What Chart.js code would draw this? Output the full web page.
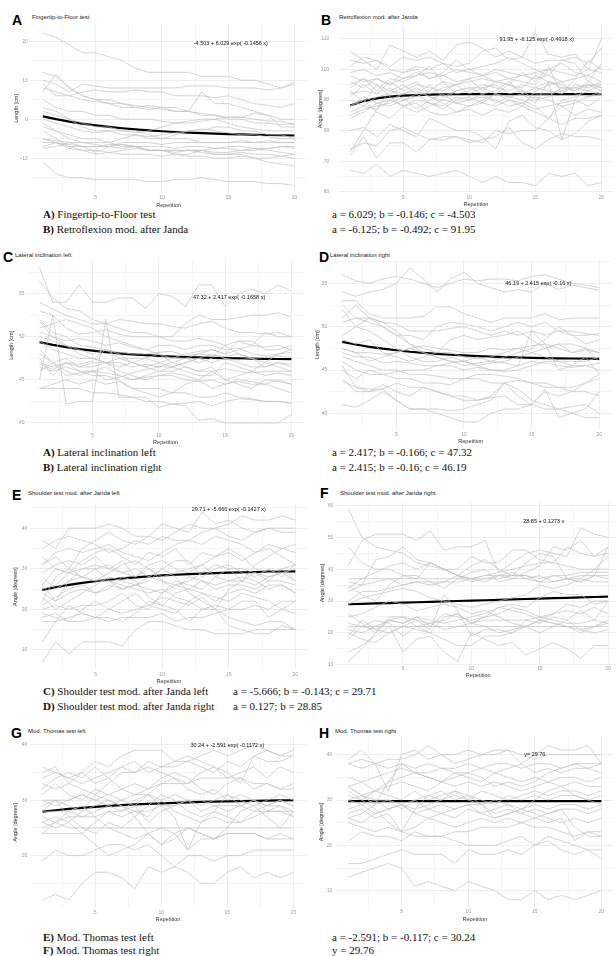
<!DOCTYPE html>
<html><head><meta charset="utf-8">
<script src="https://cdn.jsdelivr.net/npm/chart.js@4/dist/chart.umd.min.js"></script>
<style>
html,body{margin:0;padding:0;background:#fff;}
body{width:616px;height:956px;position:relative;overflow:hidden;}
canvas{position:absolute;}
.lt{position:absolute;font:bold 14px "Liberation Sans",Arial,sans-serif;color:#000;line-height:14px;}
.tt{position:absolute;font:6px "Liberation Sans",Arial,sans-serif;color:#222;white-space:nowrap;line-height:6px;}
.cap{position:absolute;font:11px "Liberation Serif","Times New Roman",Times,serif;color:#111;white-space:nowrap;line-height:11px;}
</style></head><body>

<div class="lt" style="left:12px;top:13px">A</div><div class="tt" style="left:32px;top:14px">Fingertip-to-Floor test</div>
<div class="lt" style="left:321px;top:13px">B</div><div class="tt" style="left:339px;top:14px">Retroflexion mod. after Janda</div>
<div class="lt" style="left:3px;top:250px">C</div><div class="tt" style="left:15px;top:252px">Lateral inclination left</div>
<div class="lt" style="left:319px;top:250px">D</div><div class="tt" style="left:330px;top:252px">Lateral inclination right</div>
<div class="lt" style="left:12px;top:488px">E</div><div class="tt" style="left:28px;top:490px">Shoulder test mod. after Janda left</div>
<div class="lt" style="left:320px;top:486px">F</div><div class="tt" style="left:340px;top:490px">Shoulder test mod. after Janda right</div>
<div class="lt" style="left:11px;top:726px">G</div><div class="tt" style="left:28px;top:728px">Mod. Thomas test left</div>
<div class="lt" style="left:319px;top:726px">H</div><div class="tt" style="left:335px;top:728px">Mod. Thomas test right</div>

<div class="cap" style="left:43px;top:209px"><b>A)</b> Fingertip-to-Floor test</div>
<div class="cap" style="left:43px;top:224px"><b>B)</b> Retroflexion mod. after Janda</div>
<div class="cap" style="left:332px;top:209px">a = 6.029; b = -0.146; c = -4.503</div>
<div class="cap" style="left:332px;top:224px">a = -6.125; b = -0.492; c = 91.95</div>
<div class="cap" style="left:43px;top:447px"><b>A)</b> Lateral inclination left</div>
<div class="cap" style="left:43px;top:462px"><b>B)</b> Lateral inclination right</div>
<div class="cap" style="left:332px;top:447px">a = 2.417; b = -0.166; c = 47.32</div>
<div class="cap" style="left:332px;top:462px">a = 2.415; b = -0.16; c = 46.19</div>
<div class="cap" style="left:43px;top:686px"><b>C)</b> Shoulder test mod. after Janda left</div>
<div class="cap" style="left:43px;top:701px"><b>D)</b> Shoulder test mod. after Janda right</div>
<div class="cap" style="left:233px;top:686px">a = -5.666; b = -0.143; c = 29.71</div>
<div class="cap" style="left:233px;top:701px">a = 0.127; b = 28.85</div>
<div class="cap" style="left:43px;top:932px"><b>E)</b> Mod. Thomas test left</div>
<div class="cap" style="left:43px;top:945px"><b>F)</b> Mod. Thomas test right</div>
<div class="cap" style="left:332px;top:932px">a = -2.591; b = -0.117; c = 30.24</div>
<div class="cap" style="left:332px;top:945px">y = 29.76</div>

<script>
// repetitions (x axis)
const repetition=[1,2,3,4,5,6,7,8,9,10,11,12,13,14,15,16,17,18,19,20];
const xGridTicks=[2.5,5,7.5,10,12.5,15,17.5,20];

// A) Fingertip-to-Floor test [cm]
const fingerFloor=[
[22,21,19,17,17,16,15,13,12,12,12,12,11,11,11,10,10,9,8,9],
[10,9,7,9,8.5,8,8,8,8,8,8,8.5,8.5,8.5,8,8,8,7.5,8,9.5],
[9,6,6,7,7.5,7,7,7.5,7,7,6,6,6,5.5,6,5,4,3.5,3,4],
[12,11,8,6,5,4,4,3,3.5,3,3,2,7,4,4,3,2,1,0,0],
[7,11.5,8,6,5,5,4,3.5,3,2.5,2,2,1.5,1,0,0,-1,-1,-1.5,-1],
[5,3,2,2,1,1,0,0,0,-0.5,-1,-0.5,0,0,0.5,0.5,1.5,1,-2,-2],
[-5,-5.5,-6,-7,-8.5,-7,-6.5,-7,-8,-8,-8.5,-8,-8,-7.5,-7,-7,-7.5,-8,-8.5,-9],
[-6,-6,-6.5,-7,-7,-7,-7.5,-7,-8,-8,-9,-9,-8,-9,-9,-8.5,-9,-9,-9.5,-10],
[-7,-6,-7.5,-8,-8,-8.5,-9,-9,-9,-9.5,-9,-9.5,-9.5,-10,-10,-9.5,-10,-10,-9.5,-9],
[-7.5,-7,-6,-6,-6.5,-7,-6,-6,-6,-6.5,-6,-6,-6,-6,-6,-5.5,-6,-5.5,-6,-6],
[-11,-14,-15,-15,-15.5,-15.5,-15.5,-15.5,-16,-16,-15.5,-15.5,-15,-15.5,-16,-16,-16,-16.5,-16.5,-17],
[-3,-5,-7,-8,-9,-8.5,-8,-7.5,-8,-8,-8,-8,-8.5,-9,-9,-9,-10,-11,-11.5,-12],
[-1,-3,-5,-6,-6,-6,-7,-7,-8,-8,-8,-8,-8,-8.5,-8.5,-8,-8,-7.5,-7,-7],
[0,-1,-2,-3,-3.5,-3,-4,-4,-4.5,-4,-3.5,-3,-2.5,-3,-3.5,-4,-4,-4.5,-5,-5],
[3,2,0,-1,-2,-2,-3,-3,-4,-5,-5,-5,-6,-6,-6,-6,-6,-6,-6,-6],
[2,1,0,-2,-3,-3,-3,-3.5,-3,-2,-1,-1,-0.5,0,-1,-2,-2.5,-3,-3,-3],
[-5,-6,-7,-7,-7,-6.5,-6.5,-7,-7,-7,-7.5,-7,-7,-7.5,-7.5,-8,-7.5,-7.5,-7,-7.5],
[8,7,6,5,4.5,4,3,3,2.5,3,2,2,1,1,0.5,0.5,0,-0.5,-0.5,-1.5],
[-2,-3,-4,-5,-5,-6,-5,-4,-5,-5,-4,-3,-3,-2,-2,-3,-3,-4,-4,-5]
];
const fingerFloorFit=[0.71,0.00,-0.61,-1.14,-1.59,-1.99,-2.33,-2.62,-2.88,-3.10,-3.29,-3.45,-3.59,-3.72,-3.82,-3.92,-4.00,-4.06,-4.12,-4.18];

// B) Retroflexion mod. after Janda [degrees]
const retroflexion=[
[106,103,100,108,106,104,106,103,108,109,107,104,106,104,112,105,104,105,100,110],
[103,102,103,101,104,103,104,102,101,102,106,107,103,104,102,103,103,104,102,107],
[101,104,103,100,99,101,100,102,99,100,101,102,104,102,100,98,103,102,96,102],
[98,96,97,95,99,100,97,99,103,100,98,99,97,96,95,100,102,99,98,101],
[95,97,93,97,96,98,101,96,95,96,97,96,95,99,96,101,92,97,103,100],
[93,89,95,93,92,94,91,90,93,94,92,93,96,92,89,96,95,93,96,94],
[92,93,92,94,90,91,93,96,92,93,95,94,93,95,94,93,92,95,94,96],
[90,88,91,92,94,96,92,94,95,92,94,95,92,93,92,92,93,94,95,95],
[88,91,89,88,90,92,89,87,90,91,89,88,90,89,91,90,88,89,91,92],
[86,88,87,90,88,86,88,90,89,90,91,90,88,89,87,88,89,90,88,91],
[85,87,88,89,91,87,90,92,89,88,89,92,90,88,93,95,96,92,91,93],
[94,97,95,91,88,90,89,88,91,90,92,89,91,90,88,84,90,91,93,92],
[84,86,89,90,92,93,91,89,86,88,90,92,95,93,90,91,94,94,93,95],
[80,81,78,82,80,78,84,82,80,80,78,74,83,85,81,80,77,79,83,85],
[72,78,71,76,76,73,77,78,78,77,76,80,79,80,80,84,82,84,84,85],
[74,76,75,80,81,79,77,77,78,76,77,78,81,76,74,77,79,78,78,77],
[67,66,69,65,67,66,65,66,67,65,63,65,63,63,62,66,65,66,62,63],
[73,80,87,93,95,92,95,91,93,94,94,92,91,92,94,96,94,93,95,94],
[96,94,97,95,97,98,99,98,96,97,98,96,97,98,97,98,96,97,98,96],
[99,100,98,99,97,99,97,98,100,99,98,100,99,98,99,100,99,98,100,99],
[91,95,92,96,93,95,94,93,95,97,93,96,95,94,98,96,77,90,95,93],
[88,90,86,84,88,89,86,85,86,87,85,87,86,88,86,84,88,85,87,86]
];
const retroflexionFit=[88.2,89.66,90.55,91.09,91.43,91.63,91.75,91.83,91.88,91.9,91.92,91.93,91.94,91.94,91.95,91.95,91.95,91.95,91.95,91.95];

// C) Lateral inclination left [cm]
const latLeft=[
[58,54,54,56,54,54,54.5,54.5,53.3,55,54.7,53.5,56,56,53.5,55,55.5,55,56,55.3],
[56.5,54.5,53.3,53,52,51.5,52,51.8,51.5,51.5,51.2,51,51.5,51.8,51,50.5,50.5,50.3,50.5,50],
[54,53.2,52.5,52,51.5,51.5,51,50.5,50.5,50,50,51.5,52.5,52,52,52.2,52.5,52.5,52.8,52.3],
[53,52.5,51,50.3,50.5,50.8,50.3,50,50,50,49.5,49.5,49.8,49.5,49,49.5,49,48.8,49,48.5],
[52,50.5,50,49,48.8,48.5,48.2,48,48,48.2,48.3,47.8,48,47.8,47.7,48,47.5,47.6,47.8,47.6],
[51,51.5,52,51.5,51,50,49.5,49,48.5,48,47.5,47.5,48,48.5,48,48.5,49,50.5,50,50],
[50,49.5,49,48.5,48,48.5,47.5,47,47.5,47,46.5,47,47.5,47,47.5,47,46.5,46.5,47,46.8],
[49.5,48.5,48,47.5,47.5,47,46.5,47,46.5,46,46,46.5,46,46,46.3,46,45.8,46,46,46],
[48,47,47.5,46.5,46.5,47,46,45.5,45,45.5,45.5,45,44.8,45,44.5,44.8,44.5,44.5,45,44.5],
[47,46.5,47,46,45.5,45.5,45,44,44,44,43.5,43.5,43,43,43.5,43,42.8,42.5,42.5,42.3],
[44,44,44,44,43.5,43.5,43.3,43,43,41.8,42.2,42,40.3,40.5,40,40,40,40,40,41],
[45,52.5,42.2,42.5,42.5,52,43,43,42.5,42.5,42.2,42.3,42.5,42,42.5,42.8,42.7,42.5,42.5,42.3],
[46.5,46,46.5,46,46,46.5,45.5,45,45.3,45.5,45.8,45.5,45,44,44.5,45,44.8,44.5,44,43.5],
[47.5,45.5,47,46.5,47,47,47.5,47.5,47.5,48,47,47.5,47,47.5,49,48,47.5,47,46.5,46],
[48.5,47,46,45.5,46,45.8,45.5,45,45.5,46,46.5,46,45.5,45.5,47,46.5,46,45.5,45.8,45.5],
[51.8,50,49,48,47.5,47,47,46.5,46.8,46.5,46.5,47,47.5,48,47.5,47.3,47.5,46.5,47,46.5],
[46.8,46.2,47,46.8,47.2,48.5,48,47,46.5,47,47.5,48,48.3,48.5,48,49.5,49.5,48.5,48.5,49],
[46,47,45.5,45.8,46,45,45.3,45.8,46.2,46.5,47,46.5,46,46.5,45,45.5,46,47,48,48.5],
[50.5,50,49.5,49.8,49.5,49,49.3,48.8,48.5,49,49,48.5,49,49,48.5,48.7,48,47.8,48,48.2],
[44,44.5,45,44.5,45,44.5,44.8,44,43.5,43,43.5,44.5,45,46,45,44.5,44,45,44.8,44.5]
];
const latLeftFit=[49.37,49.05,48.79,48.57,48.38,48.21,48.08,47.96,47.86,47.78,47.71,47.65,47.60,47.56,47.52,47.49,47.46,47.44,47.42,47.41];

// D) Lateral inclination right [cm]
const latRight=[
[56,55.3,55,55.5,55.8,55.5,55,54.5,55,55.5,55.3,55.5,55.5,55.3,55.8,56,55.5,55,54.8,54.5],
[54,53.5,54,54.3,55,56.8,55.5,54,55.5,56.3,55,54.5,54,54.3,54,55,54.3,54.8,54.5,54.2],
[53,53,51.5,51,51,51,51.2,52.3,52.3,51.5,51,50.5,51,51,51,51.5,50.8,51,51,51],
[52.5,51,50.5,50,49,49,48.5,50,50.5,50.3,50,49.5,50,50.5,50,50.5,49.5,49,49,49.2],
[52,50,51,50.5,49.5,48,47.5,47,48.5,49,48.5,48.8,49,49.5,48.5,47.5,48,48,47.5,47],
[51,52.5,51,50,49,48,47,46.5,46,46,45.5,45.8,46,46.5,47,47.5,48,47,47.5,46],
[49,50,49.5,48.5,47.5,46.5,46,46,46.5,46,45.5,45,45,45.5,49.5,48,45,45.5,46.5,44.5],
[48.5,48,48.5,47,46.5,46,46.5,47,47,46.5,46.3,46.5,47,47.5,47,46.5,46,46,46,46.5],
[47.5,47,46,46.5,47,47.5,47,46.5,46,45.5,45.8,46,46.5,47,47.5,48.5,50,49,48,48.5],
[47,46.5,46.5,45.8,46,45.8,45.5,45.5,45.8,46,46.5,46,45.8,45.5,46,45.8,45.5,45.3,45.5,45.8],
[46.5,46,45.5,45,45,44.5,44.5,44.3,44,44,44,43.5,43.5,43.8,43.5,43,43,42.5,42.5,42],
[46,45,44.5,44.5,44,44,43.5,43.5,43.3,44,44.5,44.5,44.3,44,43.5,43.5,43,43,43.5,44],
[45.5,43,42.5,42.8,43.5,43,43,42.5,42,42,41.5,41.8,42,41,41,42.5,42,42.5,43.5,44.5],
[44,42.5,42.5,43.3,42.5,42,43,42.5,42,41.5,41.5,42,43.5,42,41,40.5,40.5,40.8,41,40],
[41,40.7,41.5,42.5,41.5,40.5,40.5,40,39.5,39,39,40,40.5,40.5,41,42.7,39.5,40,39.5,39.5],
[43.7,43,42.8,42.8,41.5,40.5,40.5,40.5,40.3,40.5,41,41.5,43.5,42.8,41.5,41,40.5,40,40.5,42.5],
[50.5,51,51,50.5,50.3,49.5,49.5,49.5,49.8,50,49.5,49,49.5,49,49.5,49,49.5,49.5,49.2,49],
[47.5,47,47,46.8,47,47.5,47.8,47.5,47.3,47,47,47.5,47.3,47.5,47.8,48,47.5,47,47.3,47],
[45,44,45,44.5,44.8,45,45,45.5,45.5,45,45.3,45,44.8,45,45.5,46,46,45.5,45.5,45]
];
const latRightFit=[48.25,47.94,47.68,47.46,47.28,47.11,46.98,46.86,46.76,46.68,46.61,46.54,46.49,46.45,46.41,46.38,46.35,46.33,46.31,46.29];

// E) Shoulder test mod. after Janda left [degrees]
const shoulderLeft=[
[7,12,9,12,12,12,11,15,17,17,16,15,15,14,14,14,15,15,15,15],
[12,17,21,19,18,18,17,19,22,21,20,17,20,20,16,15,14,14,16,15],
[18,19,17,17,18,20,19,20,21,20,19,22,20,21,20,22,22,18,20,22],
[19,18,17,20,22,20,22,24,21,23,22,21,23,20,18,17,16,17,17,15],
[21,23,25,26,24,25,28,27,23,21,24,25,24,22,24,25,24,26,26,24],
[22,28,30,28,30,27,25,26,27,30,28,24,22,20,25,27,29,27,30,27],
[25,26,29,30,30,31,29,30,28,30,32,32,28,30,31,29,28,30,28,31],
[26,30,29,32,34,35,33,31,34,33,35,31,34,33,35,33,30,29,30,31],
[28,25,27,30,31,30,29,28,30,27,25,28,27,26,27,28,27,25,26,24],
[31,34,35,34,35,36,34,33,32,34,36,37,36,38,37,36,34,36,35,34],
[35,37,38,37,36,34,35,37,36,38,37,37,39,40,38,37,39,40,39,39],
[37,35,40,40,40,41,40,38,38,37,39,41,40,40,41,43,42,42,43,42],
[31,33,30,35,37,39,37,36,38,41,40,39,44,41,42,40,39,40,40,40],
[29,31,32,31,33,30,32,28,31,32,30,29,31,33,34,32,34,35,33,31],
[23,20,22,24,26,28,27,26,25,24,27,26,25,28,30,30,29,28,29,27],
[17,17,18,19,18,17,18,18,18,19,17,18,18,19,20,20,21,20,22,22],
[26,22,27,28,27,29,31,32,30,28,29,30,31,28,27,27,26,28,29,30],
[33,30,29,28,27,27,26,25,24,25,23,22,24,23,22,24,23,22,20,19],
[20,21,20,21,21,22,24,21,20,24,26,27,29,31,30,27,31,33,35,36],
[24,22,24,25,24,26,25,26,28,27,26,25,27,25,26,26,25,27,27,26]
];
const shoulderLeftFit=[24.80,25.45,26.02,26.51,26.93,27.30,27.62,27.90,28.14,28.35,28.53,28.69,28.82,28.94,29.04,29.13,29.21,29.28,29.33,29.38];

// F) Shoulder test mod. after Janda right [degrees]
const shoulderRight=[
[59,50,47,46,45,42,41,40,38,37,38,39,40,41,42,42,41,40,40,40],
[41,49,51,51,51,49,52,46,47,47,49,39,42,45,46,45,44,53,51,50],
[47,42,40,40,38,37,42,40,38,36,37,38,37,39,41,47,46,49,44,45],
[36,35,43,44,47,43,42,40,38,41,43,40,38,42,45,44,37,36,38,47],
[37,37,37,37,37,37,37,37,37,37,37,37,38,38,37,38,38,39,39,39],
[35,32,30,35,38,38,36,34,37,39,40,36,37,37,36,38,37,36,38,37],
[30,33,33,34,35,36,36,36,36,37,38,38,38,38,36,36,37,37,36,36],
[33,35,36,37,35,36,35,36,38,37,36,38,39,37,38,36,37,38,38,38],
[29,31,32,33,34,33,31,30,29,28,29,30,31,32,35,34,35,37,40,44],
[26,23,20,24,25,24,21,32,27,19,21,21,20,24,23,25,24,27,24,30],
[22,22,22,22,22,22,22,22,22,22,22,22,22,22,22,22,22,22,22,22],
[21,20,22,24,23,25,24,23,24,25,26,28,29,28,31,33,32,32,29,30],
[19,24,21,24,23,25,22,26,25,24,25,28,27,26,24,26,27,26,28,26],
[20,18,17,20,22,21,20,18,16,16,19,19,20,22,24,23,22,20,22,24],
[18,22,24,23,19,22,23,21,22,23,22,20,21,22,24,23,22,21,22,23],
[14,16,19,22,14,18,19,14,11,20,18,16,17,13,15,17,15,12,16,16],
[11,15,20,25,25,22,20,25,26,23,25,26,28,27,25,26,29,28,30,30],
[25,26,28,30,29,27,28,29,28,26,27,25,23,22,20,22,24,21,20,21],
[34,37,39,41,42,40,42,40,40,44,42,42,46,46,43,42,47,45,44,47],
[23,22,21,20,22,24,23,24,26,23,24,24,24,24,25,24,23,23,24,23]
];
const shoulderRightFit=[28.98,29.10,29.23,29.36,29.49,29.61,29.74,29.87,30.00,30.12,30.25,30.38,30.50,30.63,30.76,30.89,31.01,31.14,31.27,31.40];

// G) Mod. Thomas test left [degrees]
const thomasLeft=[
[12,13,12,15,17,17,16,14,18,17,18,17,15,15,17,18,16,17,16,17],
[19,21,20,20,21,22,22,21,22,20,18,20,20,19,20,20,21,21,21,21],
[24,24,24,24,22,20,21,22,24,22,24,21,23,23,24,24,24,23,23,23],
[25,26,25,25,25,25,25,25,25,25,25,25,25,25,25,25,25,25,25,25],
[26,27,26,24,26,28,27,28,27,30,28,27,26,27,26,26,28,29,30,29],
[27,26,28,29,27,28,28,29,26,28,29,30,30,29,28,29,30,28,29,28],
[28,30,27,25,24,26,25,27,29,31,30,28,27,28,27,26,27,28,28,27],
[30,29,30,31,30,29,30,31,31,30,31,30,29,30,31,30,29,30,31,30],
[31,33,31,30,32,31,30,29,31,33,34,32,31,32,30,31,30,29,30,29],
[32,34,35,34,36,34,32,33,32,34,35,34,32,31,33,34,32,33,32,33],
[33,32,33,35,33,34,36,35,36,35,34,33,35,36,34,35,36,34,36,35],
[34,35,34,33,34,35,36,37,35,36,36,37,36,35,37,36,38,37,37,38],
[36,35,34,35,37,36,38,39,39,39,37,37,38,39,38,39,40,39,38,38],
[35,36,33,32,31,33,35,35,37,36,37,38,37,36,35,33,38,39,38,39],
[24,26,27,27,28,29,28,30,31,29,27,21,26,28,31,29,30,29,29,27],
[26,25,26,28,31,30,29,27,24,22,23,25,24,23,25,28,29,27,25,28],
[29,30,30,31,30,31,32,31,32,33,33,33,34,34,34,34,33,33,32,32],
[28,28,28,27,27,25,24,23,24,25,24,25,24,23,24,24,24,23,24,23],
[30,30,29,28,29,30,29,28,28,29,29,30,28,29,29,29,28,28,28,28]
];
const thomasLeftFit=[27.94,28.19,28.42,28.62,28.80,28.96,29.10,29.23,29.34,29.44,29.53,29.61,29.68,29.74,29.79,29.84,29.89,29.93,29.96,29.99];

// H) Mod. Thomas test right [degrees]
const thomasRight=[
[13,14,15,16,15,11,12,11,10,12,11,10,8,8,10,8,9,8,9,10],
[16,16,17,18,19,18,18,18,16,19,18,18,19,18,20,21,19,18,19,17],
[21,23,22,22,21,23,22,22,21,20,20,20,21,22,20,22,21,20,19,19],
[25,24,23,24,23,22,22,22,23,23,24,24,24,25,24,24,23,22,23,23],
[26,25,27,28,29,27,26,25,24,25,26,25,26,25,26,27,28,24,22,22],
[27,28,26,27,23,24,26,27,26,28,27,26,27,28,27,26,25,26,25,26],
[28,29,30,28,29,30,28,29,28,29,29,30,29,28,29,28,29,29,28,29],
[30,31,29,30,28,30,31,32,30,31,30,29,31,30,31,30,31,31,30,31],
[31,30,32,31,30,32,30,31,32,30,32,31,30,31,32,31,32,32,31,32],
[33,31,32,33,34,33,32,34,33,34,33,34,33,32,33,34,33,34,33,33],
[33,34,32,34,35,36,35,34,36,35,34,36,35,34,35,34,35,35,34,35],
[35,34,35,36,37,36,36,37,36,36,37,36,37,38,36,37,36,37,37,36],
[38,37,38,37,38,37,38,37,37,38,37,38,38,37,38,38,37,38,38,38],
[39,41,38,32,40,41,39,40,38,39,40,41,41,38,40,42,41,41,42,38],
[38,39,38,39,39,40,42,40,40,41,40,40,41,40,39,40,40,40,40,40],
[32,30,28,25,23,28,31,30,32,31,29,26,27,28,30,32,33,31,30,29],
[30,29,27,28,29,27,28,27,28,29,27,28,29,27,28,27,28,28,27,28],
[26,27,29,34,38,36,35,34,35,36,35,33,34,33,34,36,37,38,37,38],
[33,31,30,30,29,28,29,30,31,30,29,27,28,27,26,25,26,21,23,22]
];
const thomasRightFit=[29.76,29.76,29.76,29.76,29.76,29.76,29.76,29.76,29.76,29.76,29.76,29.76,29.76,29.76,29.76,29.76,29.76,29.76,29.76,29.76];

// y tick values per panel (major ones get labels)
const ticksA=[-15,-10,-5,0,5,10,15,20];
const ticksB=[60,65,70,75,80,85,90,95,100,105,110];
const ticksC=[40,42.5,45,47.5,50,52.5,55,57.5];
const ticksE=[10,15,20,25,30,35,40,45];
const ticksF=[10,15,20,25,30,35,40,45,50,55,60];
const ticksG=[15,20,25,30,35,40];
const ticksH=[10,15,20,25,30,35,40];

// layout of each panel in page px: x1/x20 = pixel of repetition 1 and 20, y mapped by two reference ticks
const panels=[
 {lines:fingerFloor,fit:fingerFloorFit,yt:"Length [cm]",ticks:ticksA,major:10,ymin:-18.9,ymax:24.4,ref:[20,41,-10,158],x1:43,x20:295,ytx:16.5,tickR:28,xty:205.5,eq:"-4.503 + 6.029 exp( -0.1456 x)",ex:15.2,ey:19.5},
 {lines:retroflexion,fit:retroflexionFit,yt:"Angle [degrees]",ticks:ticksB,major:10,ymin:59.8,ymax:114.4,ref:[110,38,60,192],x1:350,x20:601,ytx:320,tickR:329,xty:205,eq:"91.95 + -6.125 exp( -0.4918 x)",ex:15.1,ey:109.7},
 {lines:latLeft,fit:latLeftFit,yt:"Length [cm]",ticks:ticksC,major:5,ymin:39.1,ymax:58.9,ref:[50,336.3,40,422.3],x1:40,x20:292,ytx:11.7,tickR:25,xty:442,eq:"47.32 + 2.417 exp( -0.1658 x)",ex:15.3,ey:54.6},
 {lines:latRight,fit:latRightFit,yt:"Length [cm]",ticks:ticksC,major:5,ymin:38.1,ymax:57.7,ref:[55,283.3,40,413.3],x1:342,x20:599,ytx:317,tickR:327,xty:441.7,eq:"46.19 + 2.415 exp( -0.16 x)",ex:15.5,ey:55},
 {lines:shoulderLeft,fit:shoulderLeftFit,yt:"Angle [degrees]",ticks:ticksE,major:10,ymin:5.25,ymax:45.95,ref:[40,528.3,10,650],x1:42,x20:295,ytx:15,tickR:27,xty:681.7,eq:"29.71 + -5.666 exp( -0.1427 x)",ex:15,ey:44.7},
 {lines:shoulderRight,fit:shoulderRightFit,yt:"Angle [degrees]",ticks:ticksF,major:10,ymin:10.2,ymax:61.1,ref:[60,505,10,664],x1:348,x20:608,ytx:322,tickR:333,xty:675,eq:"28.85 + 0.1273 x",ex:15.3,ey:54.9},
 {lines:thomasLeft,fit:thomasLeftFit,yt:"Angle [degrees]",ticks:ticksG,major:10,ymin:10.6,ymax:41.4,ref:[40,744.3,20,855],x1:42,x20:293,ytx:15,tickR:27,xty:919,eq:"30.24 + -2.591 exp( -0.1172 x)",ex:15,ey:39.8},
 {lines:thomasRight,fit:thomasRightFit,yt:"Angle [degrees]",ticks:ticksH,major:10,ymin:6.4,ymax:43.9,ref:[40,754.3,10,890],x1:348,x20:601,ytx:321,tickR:332,xty:919,eq:"y= 29.76",ex:15,ey:40.1}
];

const fitLabel={id:"fitLabel",afterDatasetsDraw(chart,args,o){
  const c=chart.ctx,x=chart.scales.x.getPixelForValue(o.x),y=chart.scales.y.getPixelForValue(o.y);
  c.save();c.font='5.5px "Liberation Sans", Arial, sans-serif';c.fillStyle="#111";c.textAlign="center";c.textBaseline="middle";
  c.fillText(o.text,x,y);c.restore();
}};

const FONT='"Liberation Sans", Arial, sans-serif';
panels.forEach(p=>{
  const u=(p.x20-p.x1)/19, L=p.x1-0.95*u, R=p.x20+0.95*u;
  const k=(p.ref[3]-p.ref[1])/(p.ref[0]-p.ref[2]);
  const T=p.ref[1]-(p.ymax-p.ref[0])*k, B=p.ref[1]+(p.ref[0]-p.ymin)*k;
  const left=p.ytx-3.3, top=T-10, bottom=p.xty+3.3;
  const cv=document.createElement("canvas");
  const w=Math.round(R+4-left), h=Math.round(bottom-top);
  cv.width=w;cv.height=h;cv.style.left=left+"px";cv.style.top=top+"px";cv.style.width=w+"px";cv.style.height=h+"px";
  document.body.appendChild(cv);
  const ds=p.lines.map(v=>({data:v.map((y,i)=>({x:repetition[i],y})),borderColor:"#c2c2c2",borderWidth:0.7,pointRadius:0,fill:false}));
  ds.push({data:p.fit.map((y,i)=>({x:repetition[i],y})),borderColor:"#000",borderWidth:2.2,pointRadius:0,fill:false});
  const gc=m=>c=>(c.tick&&Math.abs(c.tick.value%m)<1e-6)?"#e2e2e2":"#f0f0f0";
  new Chart(cv,{type:"line",data:{datasets:ds},plugins:[fitLabel],
    options:{responsive:false,animation:false,devicePixelRatio:1,
      layout:{padding:{top:T-top,right:4,left:0,bottom:0}},
      plugins:{legend:{display:false},tooltip:{enabled:false},fitLabel:{text:p.eq,x:p.ex,y:p.ey}},
      scales:{
        x:{type:"linear",min:0.05,max:20.95,
          afterBuildTicks:s=>{s.ticks=xGridTicks.map(v=>({value:v}));},
          afterFit:s=>{s.height=bottom-B;},
          ticks:{font:{size:5,family:FONT},color:"#999",padding:2,maxRotation:0,autoSkip:false,callback:v=>v%5===0?v:""},
          grid:{color:gc(5),lineWidth:0.6,drawTicks:false},border:{display:false},
          title:{display:true,text:"Repetition",font:{size:5.5,family:FONT},color:"#333",padding:0}},
        y:{type:"linear",min:p.ymin,max:p.ymax,
          afterBuildTicks:s=>{s.ticks=p.ticks.map(v=>({value:v}));},
          afterFit:s=>{s.width=L-left;},
          ticks:{font:{size:5,family:FONT},color:"#999",padding:L-p.tickR,autoSkip:false,callback:v=>Math.abs(v%p.major)<1e-6?v:""},
          grid:{color:gc(p.major),lineWidth:0.6,drawTicks:false},border:{display:false},
          title:{display:true,text:p.yt,font:{size:5.5,family:FONT},color:"#333",padding:0}}
      }}});
});
</script>
</body></html>
